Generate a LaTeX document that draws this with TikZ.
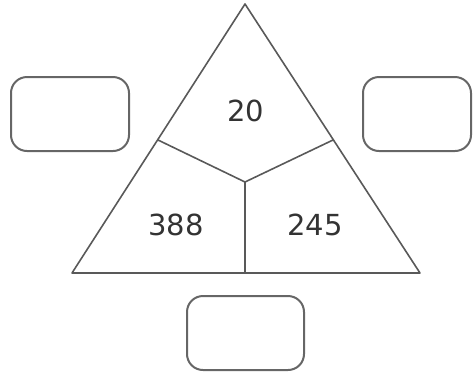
\documentclass[tikz,border=0pt]{standalone}
\usepackage{fontspec}
\setmainfont{DejaVu Sans}
\begin{document}
\begin{tikzpicture}[x=1pt,y=-1pt,
  edge/.style={draw=black!65, line width=1.6pt, line join=round},
  answerbox/.style={draw=black!60, line width=2pt, rounded corners=16pt},
  num/.style={font=\fontsize{29}{30}\selectfont, text=black!80, inner sep=0pt}]
\useasboundingbox (0,0) rectangle (473,376);
\coordinate (top) at (245,4);
\coordinate (bl) at (72,273);
\coordinate (br) at (420,273);
\coordinate (ls) at (158,140);
\coordinate (rs) at (333,140);
\coordinate (c) at (245,182);
\coordinate (cb) at (245,273);
\draw[edge] (top) -- (br) -- (bl) -- cycle;
\draw[edge] (ls) -- (c) -- (rs);
\draw[edge] (c) -- (cb);
\node[num] (n20) at (246,111) {20};
\node[num] (n388) at (176,225) {388};
\node[num] (n245) at (315,225) {245};
\draw[answerbox] (11,77) rectangle (129,151);
\draw[answerbox] (363,77) rectangle (471,151);
\draw[answerbox] (187,296) rectangle (304,370);
\end{tikzpicture}
\end{document}
